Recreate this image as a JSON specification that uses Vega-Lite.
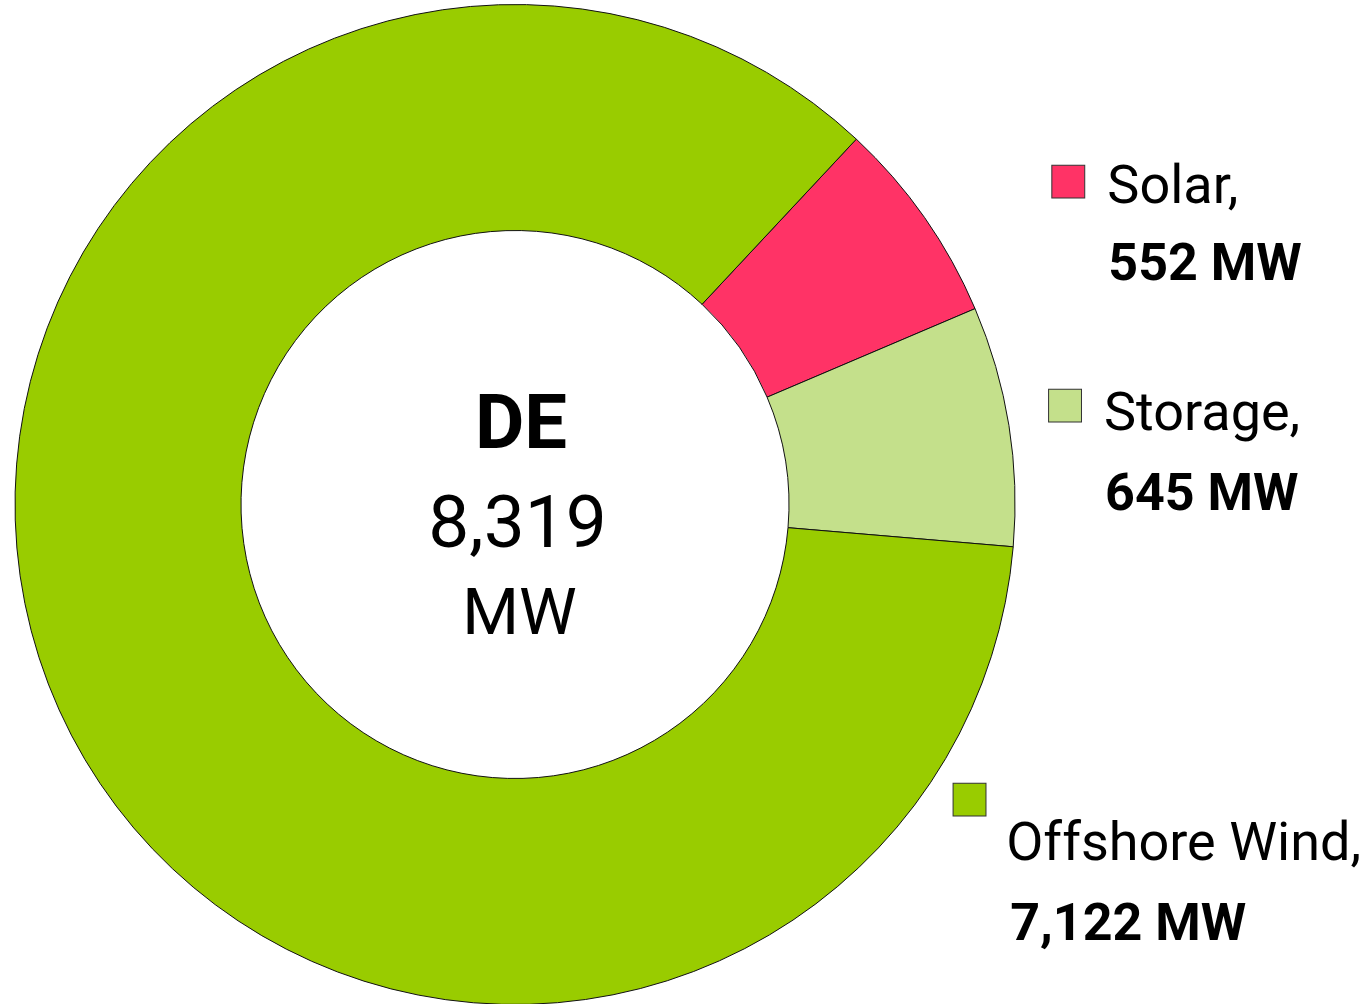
{
  "$schema": "https://vega.github.io/schema/vega-lite/v6.json",
  "width": 1030,
  "height": 1009,
  "autosize": {"type": "none"},
  "padding": {"left": 0, "top": 0, "right": 333, "bottom": 0},
  "background": "white",
  "config": {"view": {"stroke": null}, "font": "Roboto"},
  "data": {
    "values": [
      {"region": "DE", "category": "Solar", "value": 552, "order": 1, "label": "Solar,", "valueLabel": "552 MW"},
      {"region": "DE", "category": "Storage", "value": 645, "order": 2, "label": "Storage,", "valueLabel": "645 MW"},
      {"region": "DE", "category": "Offshore Wind", "value": 7122, "order": 3, "label": "Offshore Wind,", "valueLabel": "7,122 MW"}
    ]
  },
  "transform": [
    {"stack": "value", "groupby": [], "sort": [{"field": "order", "order": "ascending"}], "as": ["v0", "v1"]}
  ],
  "layer": [
    {
      "mark": {"type": "arc", "outerRadius": 500, "innerRadius": 274, "stroke": "#111111", "strokeWidth": 1},
      "encoding": {
        "theta": {"field": "v0", "type": "quantitative", "stack": null, "scale": {"domain": [0, 8319], "range": [0.7514, 7.0346], "nice": false}},
        "theta2": {"field": "v1"},
        "color": {"field": "category", "type": "nominal", "legend": null,
          "scale": {"domain": ["Solar", "Storage", "Offshore Wind"], "range": ["#FF3366", "#C4E08B", "#99CC00"]}}
      }
    },
    {
      "transform": [{"aggregate": [{"op": "sum", "field": "value", "as": "total"}], "groupby": ["region"]}],
      "layer": [
        {"mark": {"type": "text", "fontWeight": "bold", "fontSize": 76, "align": "center", "baseline": "alphabetic", "dx": 6, "dy": -56.5, "color": "#000000"},
         "encoding": {"text": {"field": "region"}}},
        {"mark": {"type": "text", "fontSize": 73, "align": "center", "baseline": "alphabetic", "dx": 2.5, "dy": 42.5, "color": "#000000"},
         "encoding": {"text": {"field": "total", "type": "quantitative", "format": ",d"}}},
        {"mark": {"type": "text", "fontSize": 65, "align": "center", "baseline": "alphabetic", "dx": 4.5, "dy": 129.5, "color": "#000000"},
         "encoding": {"text": {"value": "MW"}}}
      ]
    },
    {
      "transform": [{"filter": "datum.category === 'Solar'"}],
      "layer": [
        {"mark": {"type": "text", "text": "■", "font": "Liberation Sans", "fontSize": 68, "radius": 500, "align": "center", "baseline": "middle", "dx": 212, "dy": 43, "stroke": "#333333", "strokeWidth": 1},
         "encoding": {"theta": {"field": "v0", "type": "quantitative", "stack": null, "scale": {"domain": [0, 8319], "range": [0.7514, 7.0346], "nice": false}}, "color": {"field": "category", "type": "nominal", "legend": null}}},
        {"mark": {"type": "text", "fontSize": 54, "radius": 500, "align": "left", "baseline": "alphabetic", "dx": 251, "dy": 64, "color": "#000000"},
         "encoding": {"theta": {"field": "v0", "type": "quantitative", "stack": null, "scale": {"domain": [0, 8319], "range": [0.7514, 7.0346], "nice": false}}, "text": {"field": "label"}}},
        {"mark": {"type": "text", "fontSize": 52, "fontWeight": "bold", "radius": 500, "align": "left", "baseline": "alphabetic", "dx": 252, "dy": 140.5, "color": "#000000"},
         "encoding": {"theta": {"field": "v0", "type": "quantitative", "stack": null, "scale": {"domain": [0, 8319], "range": [0.7514, 7.0346], "nice": false}}, "text": {"field": "valueLabel"}}}
      ]
    },
    {
      "transform": [{"filter": "datum.category === 'Storage'"}],
      "layer": [
        {"mark": {"type": "text", "text": "■", "font": "Liberation Sans", "fontSize": 68, "radius": 500, "align": "center", "baseline": "middle", "dx": 90, "dy": 97.3, "stroke": "#333333", "strokeWidth": 1},
         "encoding": {"theta": {"field": "v0", "type": "quantitative", "stack": null, "scale": {"domain": [0, 8319], "range": [0.7514, 7.0346], "nice": false}}, "color": {"field": "category", "type": "nominal", "legend": null}}},
        {"mark": {"type": "text", "fontSize": 54, "radius": 500, "align": "left", "baseline": "alphabetic", "dx": 129, "dy": 121.3, "color": "#000000"},
         "encoding": {"theta": {"field": "v0", "type": "quantitative", "stack": null, "scale": {"domain": [0, 8319], "range": [0.7514, 7.0346], "nice": false}}, "text": {"field": "label"}}},
        {"mark": {"type": "text", "fontSize": 52, "fontWeight": "bold", "radius": 500, "align": "left", "baseline": "alphabetic", "dx": 130, "dy": 201.3, "color": "#000000"},
         "encoding": {"theta": {"field": "v0", "type": "quantitative", "stack": null, "scale": {"domain": [0, 8319], "range": [0.7514, 7.0346], "nice": false}}, "text": {"field": "valueLabel"}}}
      ]
    },
    {
      "transform": [{"filter": "datum.category === 'Offshore Wind'"}],
      "layer": [
        {"mark": {"type": "text", "text": "■", "font": "Liberation Sans", "fontSize": 68, "radius": 500, "align": "center", "baseline": "middle", "dx": -43.7, "dy": 253.7, "stroke": "#333333", "strokeWidth": 1},
         "encoding": {"theta": {"field": "v0", "type": "quantitative", "stack": null, "scale": {"domain": [0, 8319], "range": [0.7514, 7.0346], "nice": false}}, "color": {"field": "category", "type": "nominal", "legend": null}}},
        {"mark": {"type": "text", "fontSize": 54, "radius": 500, "align": "left", "baseline": "alphabetic", "dx": -7, "dy": 313.2, "color": "#000000"},
         "encoding": {"theta": {"field": "v0", "type": "quantitative", "stack": null, "scale": {"domain": [0, 8319], "range": [0.7514, 7.0346], "nice": false}}, "text": {"field": "label"}}},
        {"mark": {"type": "text", "fontSize": 52, "fontWeight": "bold", "radius": 500, "align": "left", "baseline": "alphabetic", "dx": -3, "dy": 393.2, "color": "#000000"},
         "encoding": {"theta": {"field": "v0", "type": "quantitative", "stack": null, "scale": {"domain": [0, 8319], "range": [0.7514, 7.0346], "nice": false}}, "text": {"field": "valueLabel"}}}
      ]
    }
  ]
}
